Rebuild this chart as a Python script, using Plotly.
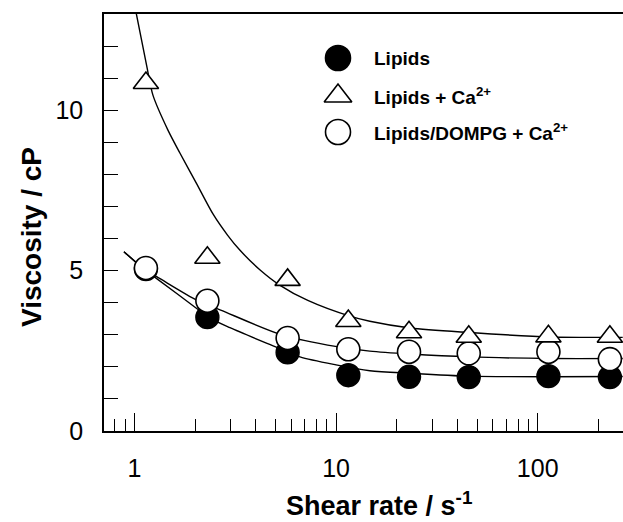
import plotly.graph_objects as go

# ---- data ----
shear_rate = [1.14, 2.3, 5.75, 11.5, 23, 45.5, 113, 228]
lipids = [5.05, 3.55, 2.45, 1.74, 1.69, 1.68, 1.71, 1.68]
lipids_ca = [10.85, 5.40, 4.71, 3.43, 3.08, 2.94, 2.95, 2.94]
dompg_ca = [5.08, 4.06, 2.90, 2.55, 2.47, 2.42, 2.47, 2.24]

# fitted curves
fit_ca_x = [1.0, 1.149, 1.235, 1.466, 1.683, 2.03, 2.46, 2.9, 3.33, 4.2, 5.25, 7.24, 11.7, 14.7, 23.3, 46, 115, 264]
fit_ca_y = [13.3, 11.4, 10.47, 9.38, 8.66, 7.72, 6.75, 6.10, 5.64, 5.02, 4.55, 4.07, 3.58, 3.42, 3.21, 3.07, 2.93, 2.92]
fit_dompg_x = [0.887, 1.14, 1.289, 2.036, 2.677, 5.43, 10.1, 14.7, 23.3, 46, 115, 264]
fit_dompg_y = [5.59, 5.0, 4.81, 4.08, 3.77, 2.99, 2.63, 2.49, 2.40, 2.31, 2.26, 2.26]
fit_lipids_x = [0.887, 1.14, 1.289, 2.036, 2.315, 2.977, 4.98, 6.62, 10.0, 14.7, 23.3, 46, 115, 264]
fit_lipids_y = [5.59, 5.0, 4.75, 3.82, 3.55, 3.22, 2.63, 2.31, 2.06, 1.88, 1.80, 1.71, 1.69, 1.70]

legend_labels = ["Lipids", "Lipids + Ca<sup>2+</sup>", "Lipids/DOMPG + Ca<sup>2+</sup>"]

x_major = [1, 10, 100]
x_major_text = ["1", "10", "100"]
x_minor = [0.8, 0.9, 2, 3, 4, 5, 6, 7, 8, 9, 20, 30, 40, 50, 60, 70, 80, 90, 200]
y_major = [0, 5, 10]
y_minor = [1, 2, 3, 4, 6, 7, 8, 9, 11, 12]

W, H = 623, 522
ML, MR, MT, MB = 104, 0, 14, 91

fig = go.Figure()

line_style = dict(color="black", width=1.4, shape="spline", smoothing=0.8)
fig.add_trace(go.Scatter(x=fit_ca_x, y=fit_ca_y, mode="lines", line=line_style, showlegend=False, hoverinfo="skip"))
fig.add_trace(go.Scatter(x=fit_dompg_x, y=fit_dompg_y, mode="lines", line=line_style, showlegend=False, hoverinfo="skip"))
fig.add_trace(go.Scatter(x=fit_lipids_x, y=fit_lipids_y, mode="lines", line=line_style, showlegend=False, hoverinfo="skip"))

fig.add_trace(go.Scatter(x=shear_rate, y=lipids, mode="markers", showlegend=False,
                         marker=dict(symbol="circle", size=23, color="black", line=dict(color="black", width=1.4))))
fig.add_trace(go.Scatter(x=shear_rate, y=dompg_ca, mode="markers", showlegend=False,
                         marker=dict(symbol="circle", size=23, color="white", line=dict(color="black", width=1.6))))
fig.add_trace(go.Scatter(x=shear_rate, y=lipids_ca, mode="markers", showlegend=False,
                         marker=dict(symbol="triangle-up", size=22, color="white", line=dict(color="black", width=1.6))))

# manual legend (overlay axes in plot-fraction units)
pw, ph = W - ML - MR, H - MT - MB
def fx(px):
    return (px - ML) / pw
def fy(py):
    return (H - MB - py) / ph

leg_x = fx(338)
leg_y = [fy(58), fy(96), fy(132)]
leg_sym = ["circle", "triangle-up", "circle"]
leg_fill = ["black", "white", "white"]
leg_size = [25, 24, 25]
for i in range(3):
    fig.add_trace(go.Scatter(x=[leg_x], y=[leg_y[i]], xaxis="x2", yaxis="y2", mode="markers", showlegend=False,
                             hoverinfo="skip",
                             marker=dict(symbol=leg_sym[i], size=leg_size[i], color=leg_fill[i],
                                         line=dict(color="black", width=1.6))))
    fig.add_annotation(x=fx(372), y=leg_y[i], xref="paper", yref="paper", text=legend_labels[i],
                       showarrow=False, xanchor="left", yanchor="middle",
                       font=dict(family="Liberation Sans, Arial", size=19, color="black", weight="bold"))

# axis titles
fig.add_annotation(x=fx(379), y=fy(504), xref="paper", yref="paper", text="Shear rate / s<sup>-1</sup>",
                   showarrow=False, xanchor="center", yanchor="middle",
                   font=dict(family="Liberation Sans, Arial", size=27, color="black", weight="bold"))
fig.add_annotation(x=fx(31), y=fy(237), xref="paper", yref="paper", text="Viscosity / cP",
                   showarrow=False, xanchor="center", yanchor="middle", textangle=-90,
                   font=dict(family="Liberation Sans, Arial", size=28, color="black", weight="bold"))

tick_font = dict(family="Liberation Sans, Arial", size=25, color="black")
fig.update_layout(
    width=W, height=H, autosize=False,
    margin=dict(l=ML, r=MR, t=MT, b=MB, pad=0),
    paper_bgcolor="white", plot_bgcolor="white",
    xaxis=dict(type="log", range=[-0.151, 2.423], showgrid=False, zeroline=False,
               showline=True, linecolor="black", linewidth=1.6, mirror=True,
               ticks="inside", ticklen=18, tickwidth=1.3, tickcolor="black",
               tickmode="array", tickvals=x_major, ticktext=x_major_text,
               tickfont=tick_font, ticklabelstandoff=14,
               minor=dict(ticks="inside", ticklen=12, tickwidth=1.3, tickcolor="black",
                          tickmode="array", tickvals=x_minor, showgrid=False)),
    yaxis=dict(range=[0, 13], showgrid=False, zeroline=False,
               showline=True, linecolor="black", linewidth=1.6,
               ticks="inside", ticklen=14, tickwidth=1.3, tickcolor="black",
               tickmode="array", tickvals=y_major,
               tickfont=tick_font, ticklabelstandoff=14,
               minor=dict(ticks="inside", ticklen=14, tickwidth=1.3, tickcolor="black",
                          tickmode="array", tickvals=y_minor, showgrid=False)),
    xaxis2=dict(overlaying="x", range=[0, 1], visible=False, fixedrange=True),
    yaxis2=dict(overlaying="y", range=[0, 1], visible=False, fixedrange=True),
    showlegend=False,
)

fig.write_html("out.html", config={"displayModeBar": False},
               post_script="document.body.style.margin='0';")
